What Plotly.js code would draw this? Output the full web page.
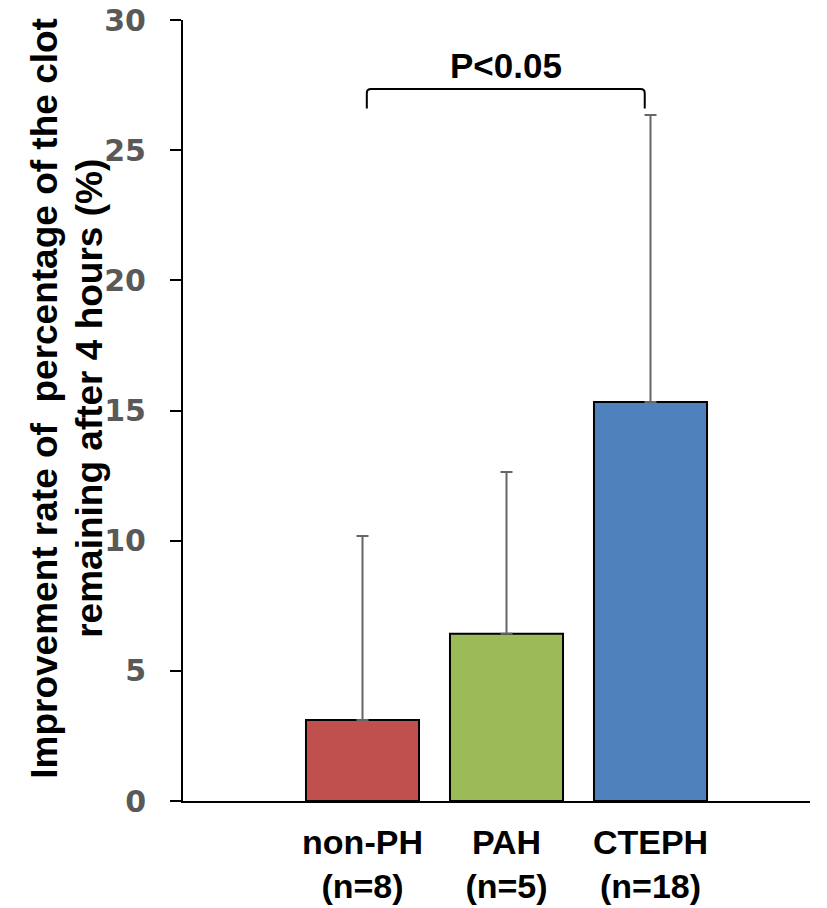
<!DOCTYPE html>
<html>
<head>
<meta charset="utf-8">
<script src="https://cdn.plot.ly/plotly-3.0.1.min.js"></script>
<style>html,body{margin:0;padding:0;background:#fff;}#chart{width:827px;height:908px;}</style>
</head>
<body>
<div id="chart"></div>
<script>
const categories = ["non-PH<br>(n=8)", "PAH<br>(n=5)", "CTEPH<br>(n=18)"];
const means = [3.11, 6.42, 15.33];
const sdUpper = [7.07, 6.22, 11.02];
const barColors = ["#C0504D", "#9BBB59", "#4F81BD"];
const yTicks = [0, 5, 10, 15, 20, 25, 30];
const sigLabel = "P<0.05";
const yTitleLines = ["Improvement rate of  percentage of the clot", "remaining after 4 hours (%)"];

const xPos = categories.map((c, i) => i);

const trace = {
  type: "bar",
  x: xPos,
  y: means,
  width: 0.785,
  marker: { color: barColors, line: { color: "#000", width: 2 } },
  error_y: { type: "data", array: sdUpper, arrayminus: means.map(() => 0), symmetric: false,
             color: "#666666", thickness: 2, width: 6 },
  hoverinfo: "none"
};

const titleFont = { family: "Liberation Sans, Arial, sans-serif", size: 37, color: "#000", weight: "bold" };

const layout = {
  width: 827, height: 908,
  margin: { l: 183, r: 17, t: 20, b: 107 },
  paper_bgcolor: "#fff", plot_bgcolor: "#fff",
  showlegend: false,
  xaxis: {
    range: [-1.2465, 3.1076],
    tickmode: "array", tickvals: xPos, ticktext: categories,
    ticks: "", showline: true, linecolor: "#000", linewidth: 2,
    showgrid: false, zeroline: false,
    tickfont: { family: "Liberation Sans, Arial, sans-serif", size: 34, color: "#000", weight: "bold" },
    ticklabelstandoff: 10
  },
  yaxis: {
    range: [0, 30],
    tickmode: "array", tickvals: yTicks,
    ticks: "outside", ticklen: 11, tickwidth: 2, tickcolor: "#000",
    showline: true, linecolor: "#000", linewidth: 2,
    showgrid: false, zeroline: false,
    tickfont: { family: "DejaVu Sans, sans-serif", size: 30, color: "#595959", weight: "bold" },
    ticklabelstandoff: 18
  },
  shapes: [{
    type: "path", xref: "x", yref: "y",
    path: "M 0.03 26.6 L 0.03 27.2 Q 0.03 27.35 0.06 27.35 L 1.93 27.35 Q 1.96 27.35 1.96 27.2 L 1.96 26.6",
    line: { color: "#000", width: 2 }
  }],
  annotations: [
    { text: sigLabel, xref: "x", yref: "y", x: 0.995, y: 28.25, showarrow: false,
      yanchor: "middle",
      font: { family: "Liberation Sans, Arial, sans-serif", size: 35, color: "#000", weight: "bold" } },
    { text: yTitleLines[0], xref: "paper", yref: "paper", x: (45 - 183) / 627, y: 0.515, textangle: -90,
      showarrow: false, xanchor: "center", yanchor: "middle", font: titleFont },
    { text: yTitleLines[1], xref: "paper", yref: "paper", x: (90 - 183) / 627, y: 0.515, textangle: -90,
      showarrow: false, xanchor: "center", yanchor: "middle", font: titleFont }
  ]
};

Plotly.newPlot("chart", [trace], layout, { staticPlot: true, displayModeBar: false });
</script>
</body>
</html>
